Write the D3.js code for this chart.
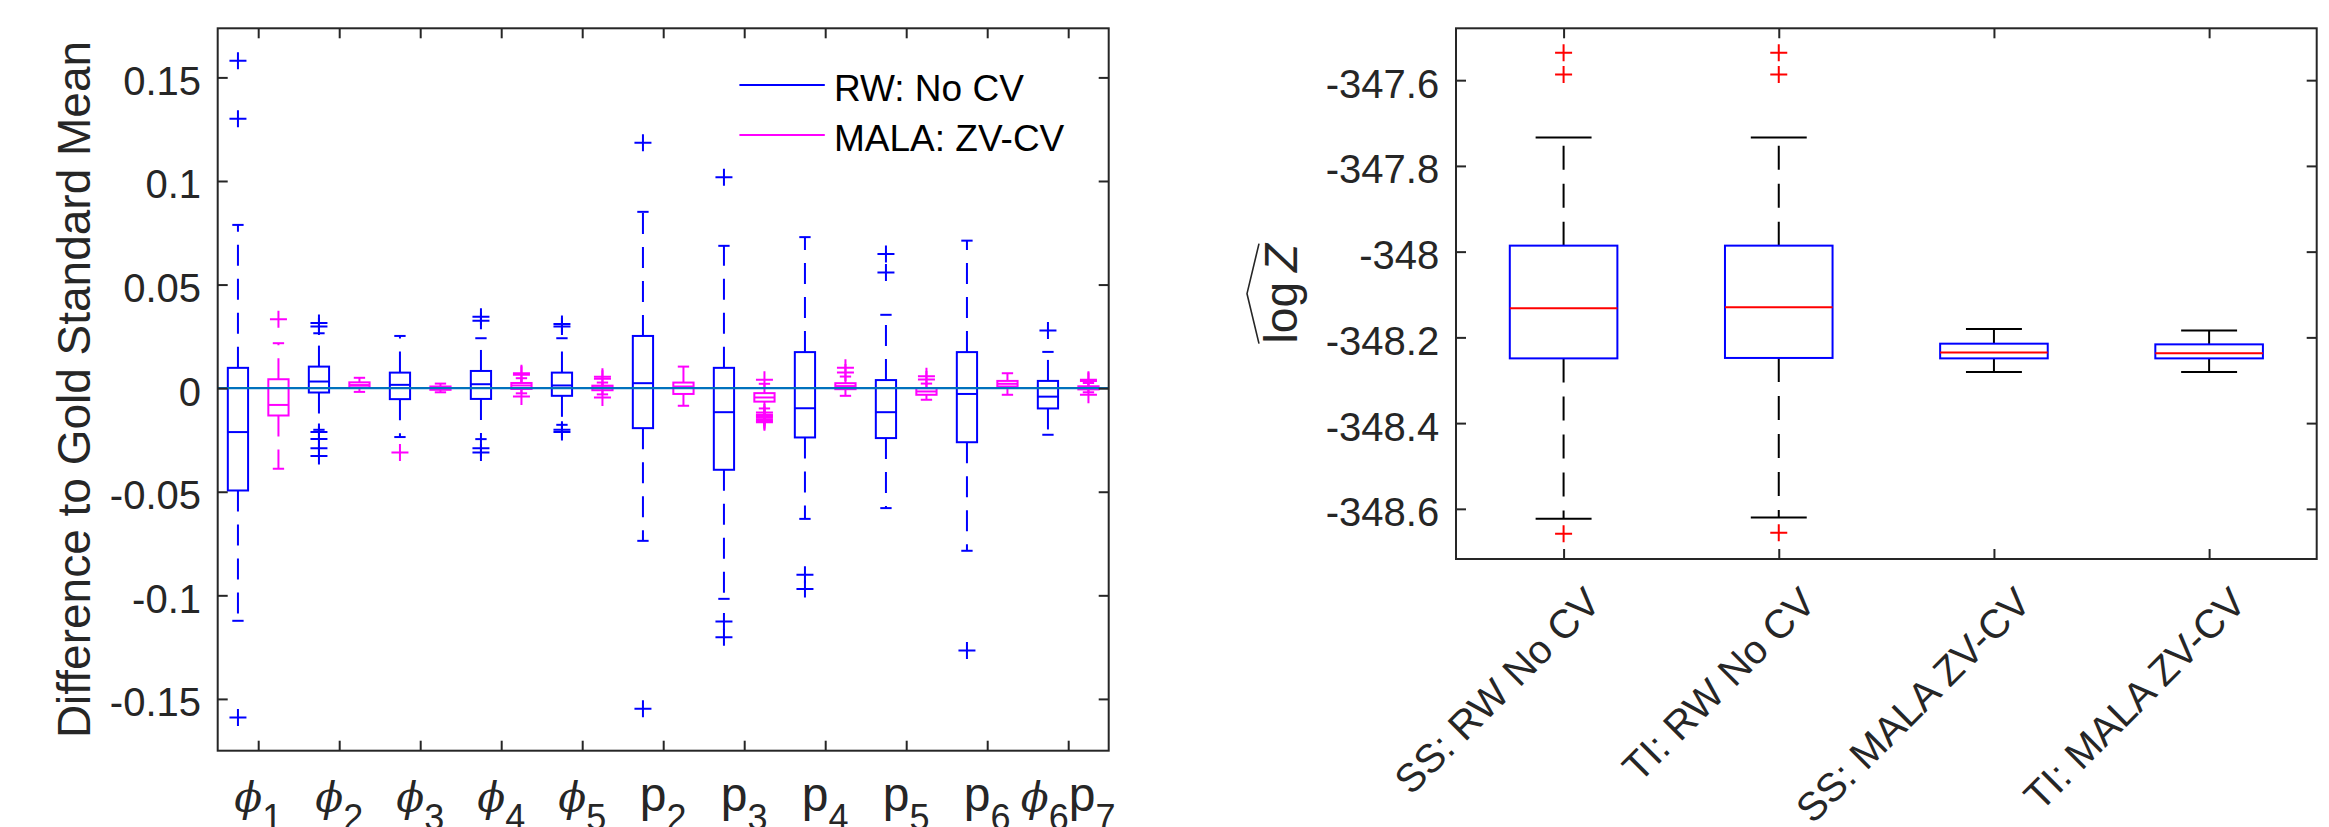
<!DOCTYPE html>
<html>
<head>
<meta charset="utf-8">
<script src="https://d3js.org/d3.v7.min.js"></script>
<style>
  body { margin: 0; background: #fff; }
  svg { display: block; }
  text { font-family: "Liberation Sans", Arial, Helvetica, sans-serif; }
</style>
</head>
<body>
<div id="chart"></div>
<script>
// ---------- left panel: difference to gold standard mean ----------
var paramLabels = [
  [['ϕ', '1']], [['ϕ', '2']], [['ϕ', '3']], [['ϕ', '4']], [['ϕ', '5']],
  [['p', '2']], [['p', '3']], [['p', '4']], [['p', '5']], [['p', '6']],
  [['ϕ', '6'], ['p', '7']]
];
var leftYTicks = [-0.15, -0.1, -0.05, 0, 0.05, 0.1, 0.15];
var seriesNames = ['RW: No CV', 'MALA: ZV-CV'];

// RW, no control variates (blue)
var rwLo  = [-0.1123, -0.0201, -0.0236, -0.0246, -0.0177, -0.0737, -0.1017, -0.0631, -0.0579, -0.0785, -0.0225];
var rwQ1  = [-0.0494, -0.0021, -0.0053, -0.0052, -0.0037, -0.0193, -0.0394, -0.0238, -0.0241, -0.0261, -0.0098];
var rwMed = [-0.0212,  0.0032,  0.0016,  0.0019,  0.0013,  0.0024, -0.0116, -0.0097, -0.0116, -0.0028, -0.0041];
var rwQ3  = [ 0.0098,  0.0104,  0.0075,  0.0083,  0.0075,  0.0252,  0.0098,  0.0174,  0.0039,  0.0174,  0.0035];
var rwHi  = [ 0.0788,  0.0265,  0.0252,  0.0241,  0.0241,  0.0851,  0.0687,  0.0729,  0.0354,  0.0712,  0.0175];
var rwOut = [
  [0.158, 0.130, -0.159],
  [0.0315, 0.0298, -0.0212, -0.0246, -0.0290, -0.0327],
  [],
  [0.0345, 0.0325, -0.0290, -0.0310],
  [0.0310, 0.0297, -0.0201, -0.0212],
  [0.1185, -0.1548],
  [0.1018, -0.1126, -0.1202],
  [-0.0901, -0.0970],
  [0.0647, 0.0558],
  [-0.1266],
  [0.0278]
];

// MALA, zero-variance control variates (magenta)
var malaLo  = [-0.0389, -0.0018, -0.0020, -0.0025, -0.0030, -0.0085, -0.0098, -0.0037, -0.0056, -0.0032, -0.0020];
var malaQ1  = [-0.0132,  0.0004, -0.0008, -0.0004, -0.0010, -0.0028, -0.0065, -0.0005, -0.0032,  0.0008, -0.0006];
var malaMed = [-0.0081,  0.0015,  0.0000,  0.0013,  0.0004,  0.0008, -0.0045,  0.0010, -0.0016,  0.0021,  0.0002];
var malaQ3  = [ 0.0043,  0.0028,  0.0008,  0.0025,  0.0012,  0.0027, -0.0024,  0.0024,  0.0000,  0.0035,  0.0009];
var malaHi  = [ 0.0217,  0.0050,  0.0022,  0.0048,  0.0027,  0.0104,  0.0021,  0.0056,  0.0022,  0.0072,  0.0025];
var malaOut = [
  [0.0333],
  [],
  [],
  [0.0065, 0.0072, -0.0040],
  [0.0045, 0.0055, -0.0045],
  [],
  [0.0040, -0.0118, -0.0128, -0.0135, -0.0142, -0.0150, -0.0158, -0.0165],
  [0.0075, 0.0098],
  [0.0058, 0.0042],
  [],
  [0.0040, 0.0035, -0.0032]
];
// a magenta marker that sits on the RW phi_3 slot
var strayMalaSlot = [5];
var strayMalaValue = [-0.0311];

// ---------- right panel: log evidence ----------
var logzLabels = ['SS: RW No CV', 'TI: RW No CV', 'SS: MALA ZV-CV', 'TI: MALA ZV-CV'];
var logzYTicks = [-348.6, -348.4, -348.2, -348, -347.8, -347.6];
var logzLo  = [-348.623, -348.620, -348.2807, -348.2807];
var logzQ1  = [-348.249, -348.248, -348.249, -348.249];
var logzMed = [-348.132, -348.130, -348.235, -348.237];
var logzQ3  = [-347.986, -347.986, -348.2147, -348.2163];
var logzHi  = [-347.734, -347.734, -348.1804, -348.1837];
var logzOut = [[-347.536, -347.587, -348.658], [-347.536, -347.587, -348.656], [], []];

var W = 2329, H = 827;
var axisColor = '#262626';

var svg = d3.select('#chart').append('svg')
  .attr('width', W)
  .attr('height', H);
svg.append('rect').attr('width', W).attr('height', H).attr('fill', '#fff');

function stats(lo, q1, med, q3, hi, out) {
  return lo.map(function(d, i) {
    return {lo: lo[i], q1: q1[i], med: med[i], q3: q3[i], hi: hi[i], out: out[i]};
  });
}

function plus(g, cx, cy, r, color, lw) {
  g.append('path')
    .attr('d', 'M' + (cx - r) + ',' + cy + 'H' + (cx + r) + 'M' + cx + ',' + (cy - r) + 'V' + (cy + r))
    .attr('stroke', color)
    .attr('stroke-width', lw)
    .attr('fill', 'none');
}

function drawBox(g, x, y, pos, s, o) {
  var xl = x(pos - o.halfW), xr = x(pos + o.halfW), xc = x(pos);
  var cl = x(pos - o.capHalf), cr = x(pos + o.capHalf);
  // whiskers, drawn from the box outwards
  [[s.q3, s.hi], [s.q1, s.lo]].forEach(function(w) {
    g.append('line')
      .attr('x1', xc).attr('x2', xc)
      .attr('y1', y(w[0])).attr('y2', y(w[1]))
      .attr('stroke', o.whisk).attr('stroke-width', o.lw)
      .attr('stroke-dasharray', o.dash);
    g.append('line')
      .attr('x1', cl).attr('x2', cr)
      .attr('y1', y(w[1])).attr('y2', y(w[1]))
      .attr('stroke', o.whisk).attr('stroke-width', o.lw);
  });
  g.append('rect')
    .attr('x', xl).attr('width', xr - xl)
    .attr('y', y(s.q3)).attr('height', y(s.q1) - y(s.q3))
    .attr('fill', 'none')
    .attr('stroke', o.box).attr('stroke-width', o.lw);
  g.append('line')
    .attr('x1', xl).attr('x2', xr)
    .attr('y1', y(s.med)).attr('y2', y(s.med))
    .attr('stroke', o.med).attr('stroke-width', o.lw);
  s.out.forEach(function(v) {
    plus(g, xc, y(v), o.plusR, o.outColor, o.lw);
  });
}

function frameAndTicks(g, x, y, box, xTicks, yTicks, yFmt, yPad) {
  var left = g.append('g')
    .attr('transform', 'translate(' + box.x0 + ',0)')
    .call(d3.axisLeft(y).tickValues(yTicks).tickSize(-10).tickPadding(yPad).tickFormat(yFmt));
  left.selectAll('text').attr('dy', null)
    .attr('y', 17).attr('font-size', 40);

  var right = g.append('g')
    .attr('transform', 'translate(' + box.x1 + ',0)')
    .call(d3.axisRight(y).tickValues(yTicks).tickSize(-10).tickFormat(''));
  var top = g.append('g')
    .attr('transform', 'translate(0,' + box.y0 + ')')
    .call(d3.axisTop(x).tickValues(xTicks).tickSize(-10).tickFormat(''));
  var bottom = g.append('g')
    .attr('transform', 'translate(0,' + box.y1 + ')')
    .call(d3.axisBottom(x).tickValues(xTicks).tickSize(-10).tickFormat(''));

  [left, right, top, bottom].forEach(function(a) {
    a.select('.domain').remove();
    a.attr('color', axisColor)
      .attr('font-family', '"Liberation Sans", Arial, Helvetica, sans-serif');
    a.selectAll('line').attr('stroke-width', 2);
  });

  g.append('rect')
    .attr('x', box.x0).attr('y', box.y0)
    .attr('width', box.x1 - box.x0).attr('height', box.y1 - box.y0)
    .attr('fill', 'none')
    .attr('stroke', axisColor)
    .attr('stroke-width', 2);
}

// ================= left panel =================
var L = {x0: 217.7, x1: 1108.7, y0: 28.3, y1: 750.7};
var xL = d3.scaleLinear().domain([0.5, 22.5]).range([L.x0, L.x1]);
var yL = d3.scaleLinear().domain([-0.175, 0.1737]).range([L.y1, L.y0]);
var gL = svg.append('g');

var rwStats = stats(rwLo, rwQ1, rwMed, rwQ3, rwHi, rwOut);
var malaStats = stats(malaLo, malaQ1, malaMed, malaQ3, malaHi, malaOut);

var leftOpts = function(c) {
  return {halfW: 0.25, capHalf: 0.14, lw: 2, dash: '21,13', plusR: 8.5,
          box: c, med: c, whisk: c, outColor: c};
};

rwStats.forEach(function(s, i) { drawBox(gL, xL, yL, 2 * i + 1, s, leftOpts('#0000ff')); });
malaStats.forEach(function(s, i) { drawBox(gL, xL, yL, 2 * i + 2, s, leftOpts('#ff00ff')); });
strayMalaSlot.forEach(function(p, i) {
  plus(gL, xL(p), yL(strayMalaValue[i]), 8.5, '#ff00ff', 2);
});

// reference line at zero
gL.append('line')
  .attr('x1', L.x0).attr('x2', L.x1)
  .attr('y1', yL(0)).attr('y2', yL(0))
  .attr('stroke', '#0072bd')
  .attr('stroke-width', 2.2);

var leftXTicks = paramLabels.map(function(d, i) { return 2 * i + 1.5; });
frameAndTicks(gL, xL, yL, L, leftXTicks, leftYTicks, function(d) { return String(d); }, 16.7);

// x tick labels with subscripts (the subscripts run off the bottom edge, as in the original)
paramLabels.forEach(function(parts, i) {
  var t = gL.append('text')
    .attr('x', xL(leftXTicks[i]))
    .attr('y', 811)
    .attr('text-anchor', 'middle')
    .attr('fill', axisColor)
    .attr('font-size', 48);
  parts.forEach(function(p, k) {
    var isPhi = p[0] === 'ϕ';
    t.append('tspan')
      .attr('font-family', isPhi ? '"DejaVu Serif", serif' : null)
      .attr('font-style', isPhi ? 'italic' : null)
      .attr('font-size', isPhi ? 41 : 48)
      .attr('dy', k ? -19 : 0)
      .text(p[0]);
    t.append('tspan')
      .attr('font-size', 36)
      .attr('dy', 19)
      .text(p[1]);
  });
});

// y label
gL.append('text')
  .attr('transform', 'translate(90,' + ((L.y0 + L.y1) / 2) + ') rotate(-90)')
  .attr('text-anchor', 'middle')
  .attr('fill', axisColor)
  .attr('font-size', 46)
  .text('Difference to Gold Standard Mean');

// legend
var legColors = ['#0000ff', '#ff00ff'];
seriesNames.forEach(function(name, i) {
  var ly = 85 + i * 50;
  gL.append('line')
    .attr('x1', 739.4).attr('x2', 824.8)
    .attr('y1', ly).attr('y2', ly)
    .attr('stroke', legColors[i]).attr('stroke-width', 2);
  gL.append('text')
    .attr('x', 834).attr('y', ly + 15.7)
    .attr('font-size', 37)
    .attr('fill', '#000')
    .text(name);
});

// ================= right panel =================
var R = {x0: 1456, x1: 2316.7, y0: 28.3, y1: 559};
var xR = d3.scaleLinear().domain([0.5, 4.5]).range([R.x0, R.x1]);
var yR = d3.scaleLinear().domain([-348.717, -347.479]).range([R.y1, R.y0]);
var gR = svg.append('g');

var logzStats = stats(logzLo, logzQ1, logzMed, logzQ3, logzHi, logzOut);
logzStats.forEach(function(s, i) {
  drawBox(gR, xR, yR, i + 1, s, {
    halfW: 0.25, capHalf: 0.13, lw: 2, dash: '24,14', plusR: 8.5,
    box: '#0000ff', med: '#ff0000', whisk: '#000000', outColor: '#ff0000'
  });
});

var rightXTicks = logzLabels.map(function(d, i) { return i + 1; });
frameAndTicks(gR, xR, yR, R, rightXTicks, logzYTicks, function(d) { return String(d); }, 16.8);

logzLabels.forEach(function(lab, i) {
  var px = xR(i + 1) + 39, py = 605;
  gR.append('text')
    .attr('transform', 'translate(' + px + ',' + py + ') rotate(-45)')
    .attr('text-anchor', 'end')
    .attr('fill', axisColor)
    .attr('font-size', 40)
    .text(lab);
});

// y label: widehat{log Z}
var yl = gR.append('g')
  .attr('transform', 'translate(1297,' + ((R.y0 + R.y1) / 2) + ') rotate(-90)');
var ylt = yl.append('text')
  .attr('text-anchor', 'middle')
  .attr('fill', axisColor)
  .attr('font-family', '"Liberation Serif", "Times New Roman", serif')
  .attr('font-size', 46);
ylt.append('tspan').text('log');
ylt.append('tspan').attr('dx', 10).attr('font-style', 'italic').text('Z');
yl.append('path')
  .attr('d', 'M-50,-38 Q-25,-44 0,-50 Q25,-44 50,-38')
  .attr('fill', 'none')
  .attr('stroke', axisColor)
  .attr('stroke-width', 1.6);
</script>
</body>
</html>
